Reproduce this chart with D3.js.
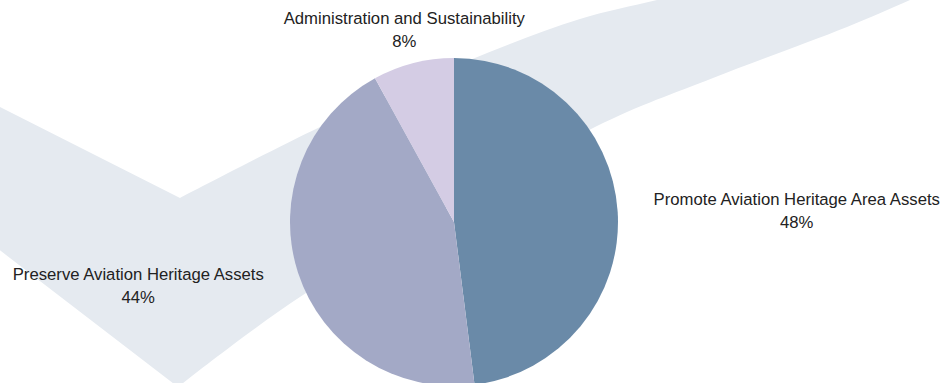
<!DOCTYPE html>
<html lang="en">
<head>
    <meta charset="UTF-8">
    <script src="https://cdnjs.cloudflare.com/ajax/libs/d3/7.8.5/d3.min.js"></script>
    <title>Budget Share</title>
    <style>
        html, body {
            margin: 0;
            padding: 0;
            background: #ffffff;
            overflow: hidden;
        }

        text {
            font-family: 'Liberation Sans', Arial, sans-serif;
            font-size: 16.7px;
            fill: #222222;
        }
    </style>
</head>

<body>
    <div id="chart"></div>

    <script>
        // Chart data
        const categories = [
            "Promote Aviation Heritage Area Assets",
            "Preserve Aviation Heritage Assets",
            "Administration and Sustainability"
        ];
        const shares = [48, 44, 8];
        const sliceColors = ["#6a8aa8", "#a3a9c6", "#d4cce4"];

        // Background check mark, drawn edge by edge (decoration only)
        const checkEdges = [
            [[-20, 97], [180, 198]],
            [[180, 198], [320, 127], [470, 60], [580, 19], [657, 0], [740, -20]],
            [[740, -20], [980, -30]],
            [[980, -30], [910, 0], [847, 27], [713, 78], [595, 127], [303, 295], [178, 387]],
            [[178, 387], [-20, 235]]
        ];

        const width = 945;
        const height = 383;
        const cx = 454;
        const cy = 222;
        const radius = 164;
        const labelRadius = 200;
        const lineHeight = 23;

        const svg = d3.select("#chart").append("svg")
            .attr("width", width)
            .attr("height", height);

        // check mark
        const edgeLine = d3.line().curve(d3.curveCatmullRom.alpha(0.5));
        const checkPath = checkEdges
            .map((e, i) => {
                const d = edgeLine(e);
                return i === 0 ? d : "L" + d.slice(1);
            })
            .join("") + "Z";

        svg.append("path")
            .attr("d", checkPath)
            .attr("fill", "#e5eaf0");

        // pie
        const data = categories.map((c, i) => ({ name: c, value: shares[i], color: sliceColors[i] }));

        const pie = d3.pie()
            .sort(null)
            .value(d => d.value);

        const arc = d3.arc()
            .innerRadius(0)
            .outerRadius(radius);

        const arcs = pie(data);

        const g = svg.append("g")
            .attr("transform", `translate(${cx},${cy})`);

        g.selectAll("path")
            .data(arcs)
            .enter()
            .append("path")
            .attr("d", arc)
            .attr("fill", d => d.data.color);

        // labels: two centred lines, pushed outside the pie on its side
        arcs.forEach(d => {
            const mid = (d.startAngle + d.endAngle) / 2;
            const dx = Math.sin(mid);
            const dy = -Math.cos(mid);
            const px = labelRadius * dx;
            const py = labelRadius * dy;
            const side = dx > 0.5 ? 1 : (dx < -0.5 ? -1 : 0);

            const label = g.append("text")
                .attr("text-anchor", "middle");

            const first = label.append("tspan").text(d.data.name);
            const w = first.node().getComputedTextLength();
            const x = px + side * w / 2;
            const y = py - 4;

            first.attr("x", x).attr("y", y);
            label.append("tspan")
                .attr("x", x)
                .attr("y", y + lineHeight)
                .text(d3.format(".0f")(d.data.value) + "%");
        });
    </script>
</body>
</html>
